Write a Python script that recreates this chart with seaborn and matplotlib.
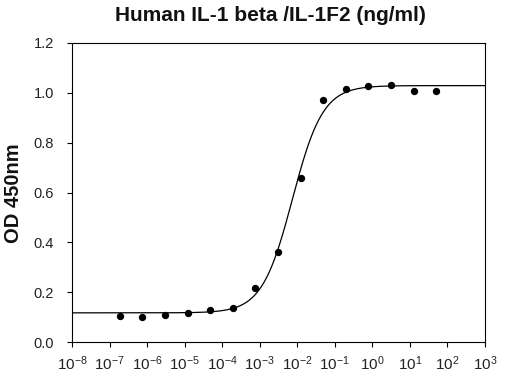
import numpy as np
import matplotlib
matplotlib.use("Agg")
import matplotlib.pyplot as plt
import seaborn as sns
from matplotlib.ticker import FixedLocator, NullLocator, FormatStrFormatter, LogFormatterSciNotation

# ---- data ----
conc_ng_ml = [50, 12.5, 3.125, 0.78125, 0.1953, 0.04883, 0.01221, 0.003052,
              0.000763, 0.0001907, 4.768e-5, 1.192e-5, 2.98e-6, 7.45e-7, 1.863e-7]
od_450 = [1.008, 1.009, 1.031, 1.028, 1.017, 0.973, 0.657, 0.363,
          0.218, 0.138, 0.128, 0.118, 0.107, 0.102, 0.103]

# 4-parameter logistic fit parameters (estimated from the drawn curve)
fit_bottom = 0.117
fit_top = 1.029
fit_log_ec50 = -2.13
fit_hill = 1.07

x_tick_values = [1e-8, 1e-7, 1e-6, 1e-5, 1e-4, 1e-3, 1e-2, 1e-1, 1e0, 1e1, 1e2, 1e3]
y_tick_values = [0.0, 0.2, 0.4, 0.6, 0.8, 1.0, 1.2]

title_text = "Human IL-1 beta /IL-1F2 (ng/ml)"
ylabel_text = "OD 450nm"

# ---- style ----
sns.set_style("ticks")
plt.rcParams["font.family"] = ["Liberation Sans", "DejaVu Sans"]
plt.rcParams["mathtext.fontset"] = "custom"
plt.rcParams["mathtext.rm"] = "Liberation Sans"
plt.rcParams["mathtext.default"] = "regular"

W, H = 508, 382
fig = plt.figure(figsize=(W / 100, H / 100), dpi=100)
ax = fig.add_axes([72 / W, 1 - 342 / H, (485 - 72) / W, (342 - 43) / H])
ax.set_xscale("log")

curve_x = np.logspace(-8, 3, 500)
curve_y = fit_bottom + (fit_top - fit_bottom) / (1 + 10 ** (fit_hill * (fit_log_ec50 - np.log10(curve_x))))

sns.lineplot(x=curve_x, y=curve_y, ax=ax, color="black", linewidth=0.9, zorder=2)
sns.scatterplot(x=conc_ng_ml, y=od_450, ax=ax, color="black", s=28,
                edgecolor="black", linewidth=0, zorder=3)

ax.set_xlim(1e-8, 1e3)
ax.set_ylim(0, 1.2)
ax.xaxis.set_major_locator(FixedLocator(x_tick_values))
ax.xaxis.set_minor_locator(NullLocator())
ax.xaxis.set_major_formatter(LogFormatterSciNotation())
ax.yaxis.set_major_locator(FixedLocator(y_tick_values))
ax.yaxis.set_major_formatter(FormatStrFormatter("%.1f"))

for side in ["top", "right", "left", "bottom"]:
    ax.spines[side].set_visible(True)
    ax.spines[side].set_linewidth(0.8)
    ax.spines[side].set_color("black")

ax.tick_params(axis="both", which="major", direction="out", length=3.6, width=0.8,
               color="black", labelcolor="#222222")
ax.tick_params(axis="y", labelsize=10.5, pad=9.5)
ax.tick_params(axis="x", labelsize=11, pad=5)
ax.set_xlabel("")
ax.set_ylabel("")

fig.text(270 / W, 1 - 20.7 / H, title_text, ha="center", va="baseline",
         fontsize=15, fontweight="bold", color="#111111")
fig.text(14 / W, 1 - 193 / H, ylabel_text, ha="center", va="center", rotation=90,
         fontsize=14.5, fontweight="bold", color="#111111")

fig.savefig("out.png", dpi=100)
